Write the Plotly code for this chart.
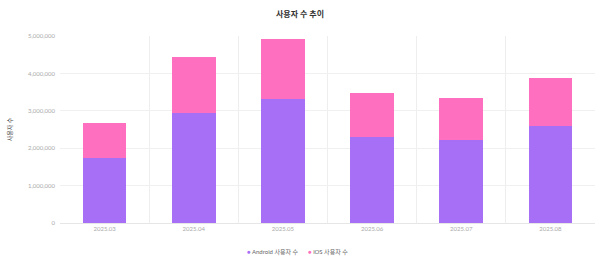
import plotly.graph_objects as go

categories = ["2025.03", "2025.04", "2025.05", "2025.06", "2025.07", "2025.08"]
android_users = [1750000, 2950000, 3320000, 2310000, 2220000, 2600000]
ios_users = [920000, 1480000, 1590000, 1160000, 1130000, 1270000]
y_ticks = [0, 1000000, 2000000, 3000000, 4000000, 5000000]
series_names = ["Android 사용자 수", "iOS 사용자 수"]

ANDROID = "#A66FF6"
IOS = "#FF6FBF"
FONT = "Lato, 'Noto Sans CJK KR', sans-serif"
CLEAR = "rgba(0,0,0,0)"


def legend_label(name, color):
    return f"<span style='color:{color};font-size:6px'>●</span> {name}"


fig = go.Figure()
fig.add_trace(go.Bar(x=categories, y=android_users, name=series_names[0],
                     marker=dict(color=ANDROID, line=dict(width=0)), showlegend=False))
fig.add_trace(go.Bar(x=categories, y=ios_users, name=series_names[1],
                     marker=dict(color=IOS, line=dict(width=0)), showlegend=False))
# legend entries (bullet drawn inside the label text)
fig.add_trace(go.Scatter(x=[None], y=[None], mode="lines", name=legend_label(series_names[0], ANDROID),
                         line=dict(color=CLEAR, width=0), legend="legend"))
fig.add_trace(go.Scatter(x=[None], y=[None], mode="lines", name=legend_label(series_names[1], IOS),
                         line=dict(color=CLEAR, width=0), legend="legend2"))

legend_common = dict(orientation="h", xref="container", xanchor="left",
                     yref="container", y=1 - 252 / 256, yanchor="middle",
                     font=dict(size=6, color="#666666"), itemwidth=30,
                     bgcolor=CLEAR)

fig.update_layout(
    width=600, height=256,
    barmode="stack", bargap=0.51,
    margin=dict(l=60, r=5, t=36, b=33, autoexpand=False),
    paper_bgcolor="white", plot_bgcolor="white",
    font=dict(family=FONT, size=6, color="#999999"),
    title=dict(text="사용자 수 추이", x=0.5, xanchor="center", y=1 - 14 / 256, yanchor="middle",
               automargin=False,
               font=dict(family=FONT, size=8, color="#333333", weight="bold")),
    legend=dict(legend_common, x=207 / 600),
    legend2=dict(legend_common, x=268 / 600),
    xaxis=dict(type="category", tickson="boundaries", showgrid=True, gridcolor="#EEEEEE",
               gridwidth=1, ticks="", showline=True, linecolor="#E6E6E6", automargin=False,
               tickfont=dict(size=6, color="#AAAAAA"), fixedrange=True),
    yaxis=dict(range=[0, 5000000], tickvals=y_ticks, tickformat=",d", automargin=False,
               showgrid=True, gridcolor="#F0F0F0", zeroline=False, ticks="",
               ticklabelstandoff=4,
               tickfont=dict(size=6, color="#AAAAAA"),
               title=dict(text="사용자 수", font=dict(size=6, color="#444444"), standoff=14)),
)

fig.write_html("out.html")
